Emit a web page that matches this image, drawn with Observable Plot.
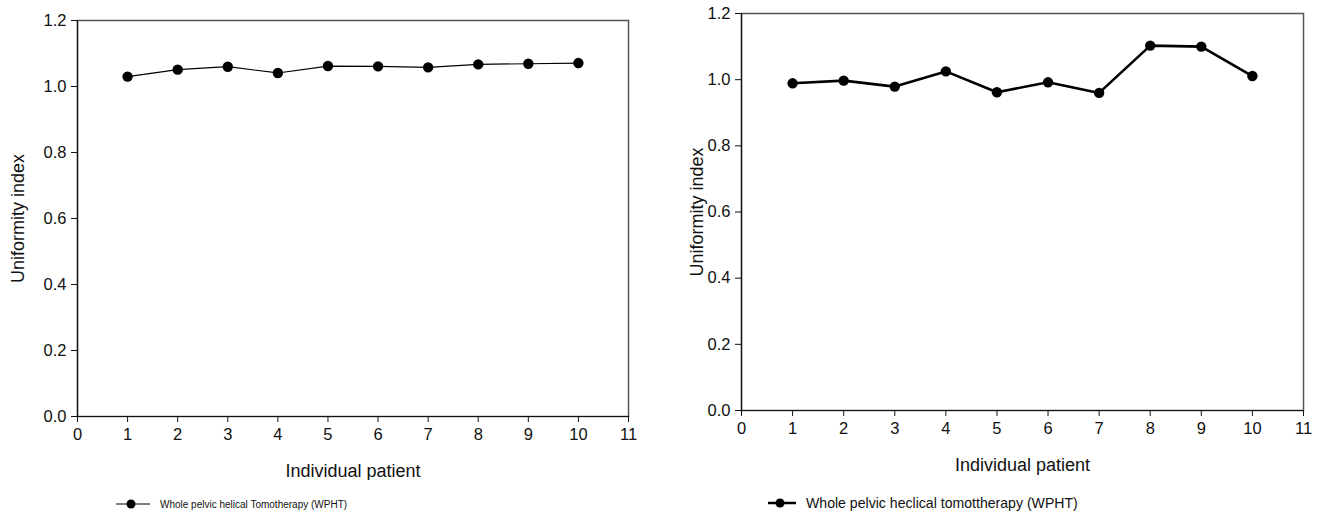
<!DOCTYPE html>
<html>
<head>
<meta charset="utf-8">
<script src="https://cdn.jsdelivr.net/npm/d3@7"></script>
<script src="https://cdn.jsdelivr.net/npm/@observablehq/plot@0.6"></script>
<style>
  body { margin: 0; background: #fff; font-family: "Liberation Sans", Arial, sans-serif; }
  #wrap { position: relative; width: 1322px; height: 518px; overflow: hidden; }
  .panel { position: absolute; top: 0; }
  .panel svg text { font-size: 16.5px !important; }
  .panel svg g[aria-label='x-axis label'] text, .panel svg g[aria-label='y-axis label'] text { font-size: 18px !important; }
  .legend { position: absolute; display: flex; align-items: center; color: #111; white-space: nowrap; }
  .legend svg { display: block; }
</style>
</head>
<body>
<div id="wrap">
  <div class="panel" id="left" style="left:0px"></div>
  <div class="panel" id="right" style="left:661px"></div>
  <div class="legend" id="legL" style="left:116px; top:497px; font-size:10px;"></div>
  <div class="legend" id="legR" style="left:768px; top:495px; font-size:14.1px;"></div>
</div>
<script>
// ---- data ----
const patients = [1, 2, 3, 4, 5, 6, 7, 8, 9, 10];
const uiLeft  = [1.030, 1.051, 1.060, 1.041, 1.062, 1.061, 1.058, 1.067, 1.069, 1.071];
const uiRight = [0.989, 0.997, 0.979, 1.025, 0.962, 0.992, 0.960, 1.103, 1.100, 1.011];
const xTicks = [0, 1, 2, 3, 4, 5, 6, 7, 8, 9, 10, 11];
const yTicks = [0, 0.2, 0.4, 0.6, 0.8, 1.0, 1.2];
const xLabel = "Individual patient";
const yLabel = "Uniformity index";
const legendLeft = "Whole pelvic helical Tomotherapy (WPHT)";
const legendRight = "Whole pelvic heclical tomottherapy (WPHT)";

function panel(values, opt) {
  const data = patients.map((p, i) => ({x: p, y: values[i]}));
  return Plot.plot({
    width: 661,
    height: opt.height,
    marginLeft: opt.ml,
    marginRight: opt.mr,
    marginTop: opt.mt,
    marginBottom: opt.mb,
    style: {fontFamily: "Liberation Sans, Arial, sans-serif", fontSize: "16.5px", color: "#111", background: "white"},
    x: {domain: [0, 11]},
    y: {domain: [0, 1.2]},
    marks: [
      Plot.frame({stroke: "#555", strokeWidth: 1.5}),
      Plot.ruleX([0], {stroke: "#111", strokeWidth: 1.2}),
      Plot.ruleY([0], {stroke: "#111", strokeWidth: 1.2}),
      Plot.axisX({ticks: xTicks, tickSize: 6, tickPadding: 6, tickFormat: d => d, label: xLabel, labelAnchor: "center", labelOffset: opt.xlo, labelArrow: "none"}),
      Plot.axisY({ticks: yTicks, tickSize: 6, tickPadding: 5, tickFormat: d3.format(".1f"), label: yLabel, labelAnchor: "center", labelOffset: opt.ylo, labelArrow: "none"}),
      Plot.line(data, {x: "x", y: "y", stroke: "#000", strokeWidth: opt.sw}),
      Plot.dot(data, {x: "x", y: "y", r: 5.2, fill: "#000", stroke: "none"})
    ]
  });
}

const left = panel(uiLeft, {height: 480, ml: 77, mr: 33, mt: 20, mb: 64, sw: 1.2, xlo: 60, ylo: 66});
const right = panel(uiRight, {height: 480, ml: 80, mr: 19, mt: 13, mb: 70, sw: 2.6, xlo: 60, ylo: 51});
document.getElementById("left").appendChild(left);
document.getElementById("right").appendChild(right);

function legend(el, text, w, sw, r) {
  const s = d3.create("svg").attr("width", w).attr("height", 14);
  s.append("line").attr("x1", 0).attr("x2", w).attr("y1", 7).attr("y2", 7).attr("stroke", "#000").attr("stroke-width", sw);
  s.append("circle").attr("cx", w / 2 - 2).attr("cy", 7).attr("r", r).attr("fill", "#000");
  el.appendChild(s.node());
  const span = document.createElement("span");
  span.textContent = text;
  span.style.marginLeft = "10px";
  el.appendChild(span);
}
legend(document.getElementById("legL"), legendLeft, 34, 1, 4.5);
legend(document.getElementById("legR"), legendRight, 28, 2.5, 4.5);
</script>
</body>
</html>
